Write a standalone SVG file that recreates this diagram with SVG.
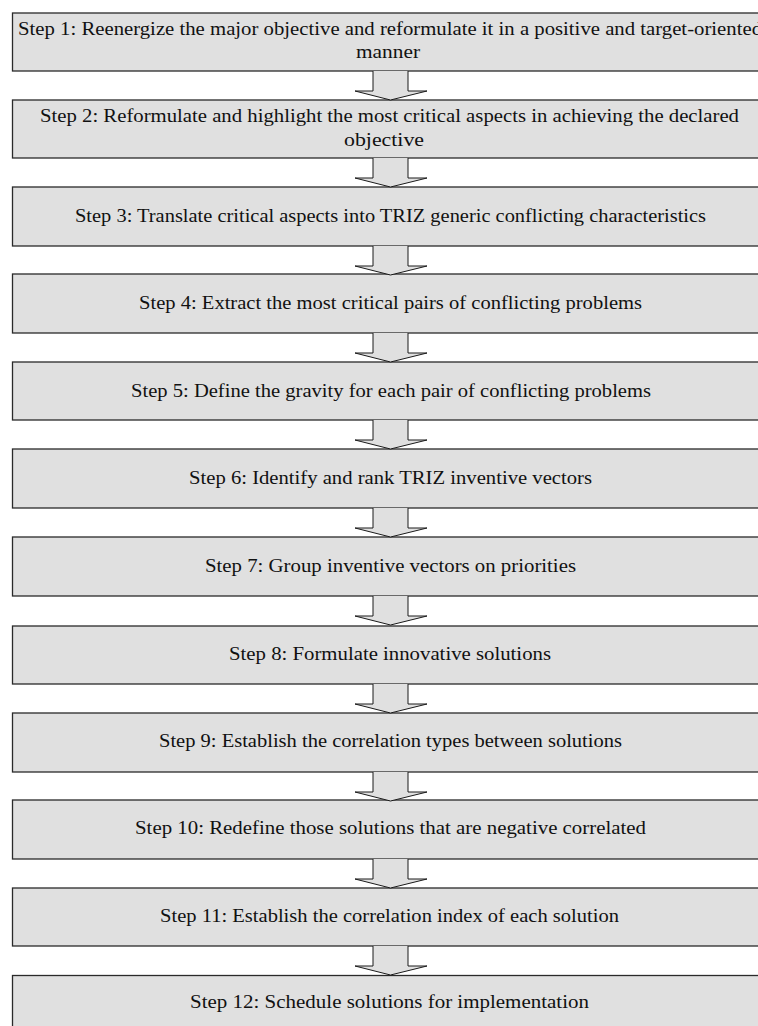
<svg xmlns="http://www.w3.org/2000/svg" width="758" height="1026" viewBox="0 0 758 1026">
<style>
.box{fill:#e0e0e0;stroke:#2a2a2a;stroke-width:1.3}
.t{font-family:"Liberation Serif","Times New Roman",serif;font-size:18px;fill:#111;text-anchor:middle}
.ar{fill:#e0e0e0;stroke:#1a1a1a;stroke-width:1}
</style>
<rect width="758" height="1026" fill="#fff"/>
<defs>
<path id="arr" class="ar" d="M373,0 V20 H355 L390.5,29 L427,20 H408 V0"/>
</defs>
<g id="step1"><rect class="box" x="12.5" y="13" width="760" height="58"/>
<text class="t" x="390" y="35" textLength="744" lengthAdjust="spacingAndGlyphs">Step 1: Reenergize the major objective and reformulate it in a positive and target-oriented</text>
<text class="t" x="388" y="58" textLength="64" lengthAdjust="spacingAndGlyphs">manner</text></g>
<g id="step2"><rect class="box" x="12.5" y="100" width="760" height="58"/>
<text class="t" x="389.5" y="122" textLength="699" lengthAdjust="spacingAndGlyphs">Step 2: Reformulate and highlight the most critical aspects in achieving the declared</text>
<text class="t" x="384" y="146" textLength="80" lengthAdjust="spacingAndGlyphs">objective</text></g>
<g id="step3"><rect class="box" x="12.5" y="187" width="760" height="59"/>
<text class="t" x="390.5" y="222" textLength="631" lengthAdjust="spacingAndGlyphs">Step 3: Translate critical aspects into TRIZ generic conflicting characteristics</text></g>
<g id="step4"><rect class="box" x="12.5" y="274" width="760" height="59"/>
<text class="t" x="390.5" y="309" textLength="503" lengthAdjust="spacingAndGlyphs">Step 4: Extract the most critical pairs of conflicting problems</text></g>
<g id="step5"><rect class="box" x="12.5" y="362" width="760" height="58"/>
<text class="t" x="391" y="397" textLength="520" lengthAdjust="spacingAndGlyphs">Step 5: Define the gravity for each pair of conflicting problems</text></g>
<g id="step6"><rect class="box" x="12.5" y="449" width="760" height="59"/>
<text class="t" x="390.5" y="484" textLength="403" lengthAdjust="spacingAndGlyphs">Step 6: Identify and rank TRIZ inventive vectors</text></g>
<g id="step7"><rect class="box" x="12.5" y="537" width="760" height="59"/>
<text class="t" x="390.5" y="572" textLength="371" lengthAdjust="spacingAndGlyphs">Step 7: Group inventive vectors on priorities</text></g>
<g id="step8"><rect class="box" x="12.5" y="626" width="760" height="58"/>
<text class="t" x="390" y="660" textLength="322" lengthAdjust="spacingAndGlyphs">Step 8: Formulate innovative solutions</text></g>
<g id="step9"><rect class="box" x="12.5" y="713" width="760" height="59"/>
<text class="t" x="390.5" y="747" textLength="463" lengthAdjust="spacingAndGlyphs">Step 9: Establish the correlation types between solutions</text></g>
<g id="step10"><rect class="box" x="12.5" y="800" width="760" height="59"/>
<text class="t" x="390.5" y="834" textLength="511" lengthAdjust="spacingAndGlyphs">Step 10: Redefine those solutions that are negative correlated</text></g>
<g id="step11"><rect class="box" x="12.5" y="888" width="760" height="58"/>
<text class="t" x="389.5" y="922" textLength="459" lengthAdjust="spacingAndGlyphs">Step 11: Establish the correlation index of each solution</text></g>
<g id="step12"><rect class="box" x="12.5" y="975.5" width="760" height="70"/>
<text class="t" x="389.5" y="1008" textLength="399" lengthAdjust="spacingAndGlyphs">Step 12: Schedule solutions for implementation</text></g>
<g id="connectors">
<use href="#arr" y="71"/>
<use href="#arr" y="158"/>
<use href="#arr" y="246"/>
<use href="#arr" y="333"/>
<use href="#arr" y="420"/>
<use href="#arr" y="508"/>
<use href="#arr" y="596"/>
<use href="#arr" y="684"/>
<use href="#arr" y="772"/>
<use href="#arr" y="859"/>
<use href="#arr" y="946"/>
</g>
</svg>
